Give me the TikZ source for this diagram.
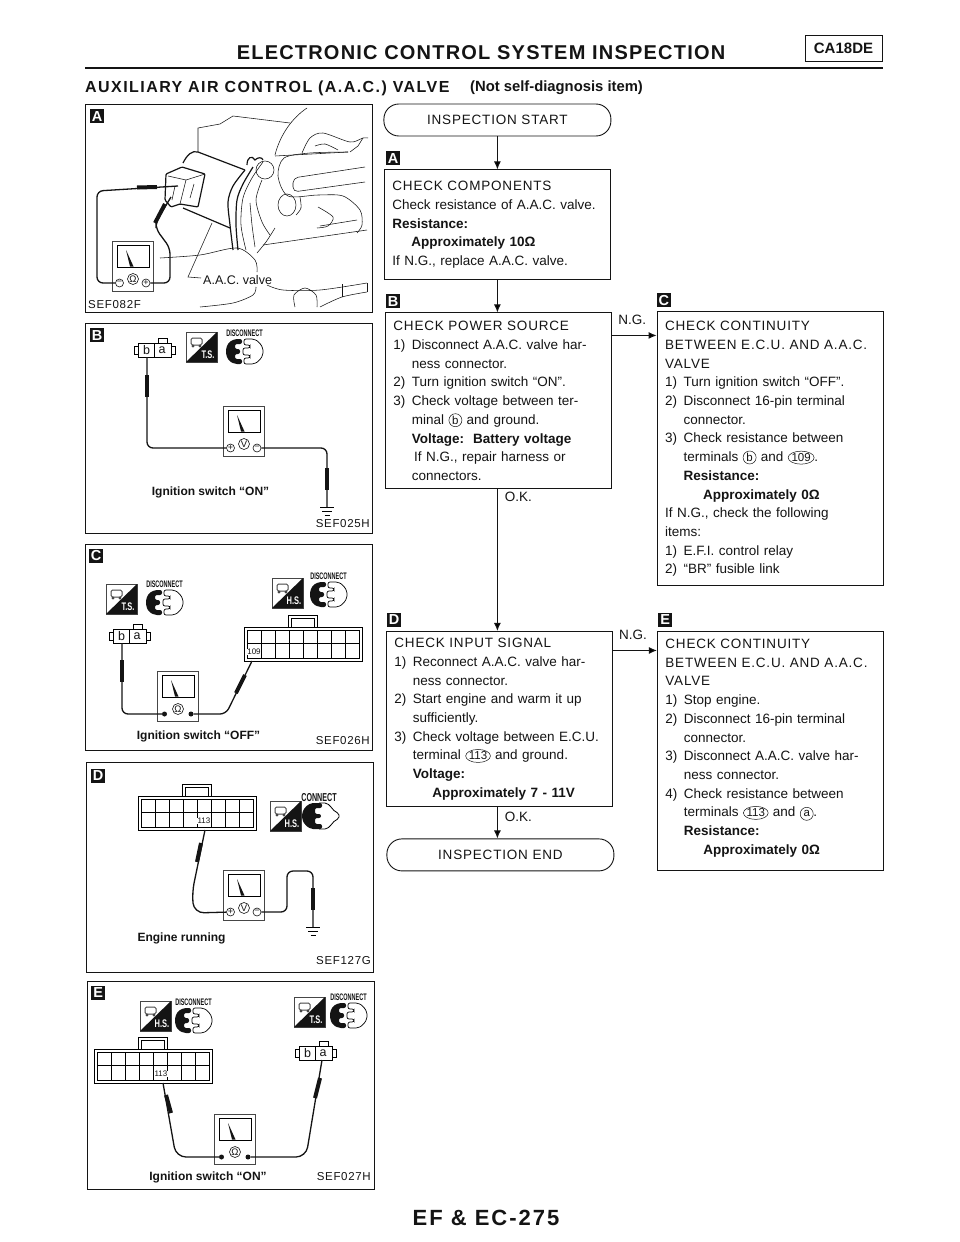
\documentclass[tikz,border=0pt]{standalone}
\usepackage{fontspec}
\usepackage{graphicx}
\setmainfont{Liberation Sans}
\newfontfamily\spacedfont[LetterSpace=6]{Liberation Sans}
\newfontfamily\widefont[LetterSpace=9]{Liberation Sans}
\usetikzlibrary{arrows.meta, positioning, shapes.geometric}
\definecolor{ink}{RGB}{20, 20, 20}
\definecolor{frameg}{RGB}{70, 70, 70}
% text helpers for the check boxes
\newcommand{\numd}[1]{\makebox[18.5pt][l]{#1}}
\newcommand{\cont}{\hspace*{18.5pt}}
\newcommand{\capl}[1]{{\spacedfont #1}}
\newcommand{\tm}[1]{\tikz[baseline=(tmark.base)]\node[ellipse, draw=ink, line width=.5pt, inner sep=-.4pt, minimum width=13pt, minimum height=13pt, text width=, align=center, font=\fontsize{11.5}{12}\selectfont] (tmark) {#1};}
\newcommand{\dialface}[1]{
  \draw[draw=frameg, line width=.8pt] (0,0) rectangle (41,50);
  \draw[line width=.7pt] (5,4) rectangle (37,26);
  \fill[ink] (14,9) -- (21.5,25.5) -- (18,25.5) -- cycle;
  \node[circle, draw=ink, line width=.6pt, minimum size=11pt, inner sep=0pt, font=\fontsize{9.5}{10}\selectfont] (-dial) at (21,38) {#1};
}
\tikzset{
  pics/signmeter/.style n args={3}{code={
    \dialface{#1}
    \node[circle, draw=ink, line width=.6pt, fill=white, minimum size=8pt, inner sep=0pt, font=\fontsize{9}{9}\selectfont] (-left) at (7.5,42) {#2};
    \node[circle, draw=ink, line width=.6pt, fill=white, minimum size=8pt, inner sep=0pt, font=\fontsize{9}{9}\selectfont] (-right) at (34,42) {#3};
  }},
  pics/dotmeter/.style={code={
    \dialface{Ω}
    \node[circle, fill=ink, minimum size=5pt, inner sep=0pt] (-left) at (7.5,43) {};
    \node[circle, fill=ink, minimum size=5pt, inner sep=0pt] (-right) at (34,43) {};
  }},
  pics/baplug/.style={code={
    \draw[line width=.7pt] (0,0) rectangle (33,14) (16,0) -- (16,14);
    \draw[line width=.7pt] (20,0) -- (20,-5) -- (29,-5) -- (29,0);
    \draw[line width=.7pt] (0,3) -- (-4,3) -- (-4,11) -- (0,11) (33,3) -- (37,3) -- (37,11) -- (33,11);
    \node[inner sep=0pt, font=\fontsize{12.5}{13}\selectfont] (-b) at (8.5,7) {b};
    \node[inner sep=0pt, font=\fontsize{12.5}{13}\selectfont] (-a) at (24,7) {a};
    \coordinate (-bpin) at (9,14);
    \coordinate (-apin) at (23,14);
  }},
  pics/pinblock/.style n args={3}{code={
    \draw[line width=.8pt] (0,0) rectangle (118,34);
    \draw[line width=.8pt] (44,0) -- (44,-12) -- (73,-12) -- (73,0);
    \draw[line width=.5pt] (47,0) -- (47,-9) -- (70,-9) -- (70,0);
    \draw[line width=.5pt] (3,3) rectangle (115,31) (3,16) -- (115,16);
    \foreach \cx in {17,31,...,101}
      \draw[line width=.5pt] (\cx,3) -- (\cx,31);
    \node[fill=white, inner sep=.3pt, font=\fontsize{8}{8}\selectfont] (-num) at (#2,25) {#1};
    \coordinate (-pin) at (#3,34);
  }},
  pics/modebadge/.style={code={
    \draw[draw=frameg, fill=white, line width=.6pt] (0,0) rectangle (31,30);
    \fill[ink] (0,30) -- (31,0) -- (31,30) -- cycle;
    \draw[frameg, line width=1pt, rounded corners=1.5pt] (5,6) rectangle (16,13);
    \fill[frameg] (7,14) circle (1.6pt) (14,14) circle (1.6pt);
    \node[text=white, inner sep=0pt, font=\bfseries\fontsize{11}{11}\selectfont] (-txt) at (22,23) {\scalebox{.68}[1]{#1}};
  }},
  pics/plugopen/.style={code={
    \node[inner sep=0pt, font=\bfseries\fontsize{9.5}{10}\selectfont] (-lab) at (18.5,-5.5) {\scalebox{.58}[1]{DISCONNECT}};
    \fill[ink, rounded corners=2pt] (9,0) -- (3,3) -- (0,9) -- (0,16) -- (3,22) -- (9,25) -- (16,25) -- (16,20) -- (9,20) -- (9,15) -- (14,15) -- (14,10) -- (9,10) -- (9,5) -- (16,5) -- (16,0) -- cycle;
    \draw[line width=.7pt, rounded corners=2pt] (18,0) -- (28,0) -- (33,3) -- (37,9) -- (37,16) -- (33,22) -- (28,25) -- (18,25) -- (18,19) -- (24,19) -- (24,16) -- (17,16) -- (17,9) -- (24,9) -- (24,6) -- (18,6) -- cycle;
  }},
  pics/plugjoin/.style={code={
    \node[inner sep=0pt, font=\bfseries\fontsize{11.5}{12}\selectfont] (-lab) at (17,-5) {\scalebox{.62}[1]{CONNECT}};
    \draw[line width=.8pt, rounded corners=2pt] (17,0) -- (25,0) -- (30,5) -- (33,9) -- (37,10) -- (37,16) -- (33,17) -- (30,21) -- (25,26) -- (17,26);
    \fill[ink, rounded corners=2pt] (9,0) -- (3,4) -- (0,10) -- (0,16) -- (3,22) -- (9,26) -- (20,26) -- (20,21) -- (13,21) -- (13,15) -- (19,15) -- (19,11) -- (13,11) -- (13,5) -- (20,5) -- (20,0) -- cycle;
  }},
  pics/earth/.style={code={
    \coordinate (-top) at (0,0);
    \draw[line width=.8pt] (-7,0) -- (7,0) (-5,4) -- (5,4) (-2.5,8) -- (2.5,8);
  }}
}
\begin{document}
\begin{tikzpicture}[
  x=1pt, y=-1pt,
  node distance=32pt and 45pt,
  every node/.style={text=ink},
  panel/.style={draw=ink, line width=.9pt, minimum width=287pt, inner sep=0pt},
  tag/.style={fill=ink, text=white, minimum size=14pt, inner sep=0pt, font=\bfseries\fontsize{14.5}{15}\selectfont},
  checkbox/.style={draw=ink, line width=1pt, text width=210pt, inner xsep=8pt, inner ysep=0pt, align=left,
                   font=\fontsize{13.5}{18.7}\selectfont},
  term/.style={draw=ink, line width=.9pt, rounded corners=15pt, minimum width=227pt, minimum height=32pt,
               font=\spacedfont\fontsize{13.5}{14}\selectfont},
  arr/.style={-{Latex[length=8pt, width=7pt]}, line width=1pt, draw=ink},
  lbl/.style={inner sep=2pt, font=\fontsize{13.5}{14}\selectfont},
  cond/.style={inner sep=0pt, font=\bfseries\fontsize{12}{12}\selectfont},
  sefid/.style={inner sep=0pt, font=\spacedfont\fontsize{11.5}{12}\selectfont},
  wire/.style={line width=1.3pt, draw=ink, rounded corners=6pt},
  probe/.style={line width=4pt, draw=ink},
  fine/.style={line width=.55pt, draw=ink},
  heavy/.style={line width=1.2pt, draw=ink}
]
  \path[use as bounding box, fill=white] (0,0) rectangle (960,1242);

  % page heading
  \node[inner sep=0pt, font=\bfseries\fontsize{20}{20}\spacedfont] (title) at (481,53) {ELECTRONIC CONTROL SYSTEM INSPECTION};
  \draw[line width=2pt, draw=ink] (85,68) -- (883,68);
  \node[draw=ink, line width=1pt, minimum width=77pt, minimum height=26pt, inner sep=0pt, font=\bfseries\fontsize{15}{15}\selectfont] (engine) at (843.5,48) {CA18DE};
  \node[anchor=west, inner sep=0pt, font=\bfseries\fontsize{16}{16}\widefont] (subhead) at (85,88) {AUXILIARY AIR CONTROL (A.A.C.) VALVE};
  \node[anchor=west, inner sep=0pt, font=\bfseries\fontsize{14.8}{15}\selectfont] (subnote) at (470,88) {(Not self-diagnosis item)};
  \node[inner sep=0pt, font=\bfseries\fontsize{22}{22}\widefont] (pageno) at (486,1218) {EF \& EC-275};

  % flow chart, main column
  \node[term] (start) at (497.4,120) {INSPECTION START};
  \node[checkbox, minimum height=110pt, below=33pt of start] (compA) {
    \capl{CHECK COMPONENTS}\\
    Check resistance of A.A.C. valve.\\
    \textbf{Resistance:}\\
    \hspace*{19pt}\textbf{Approximately 10Ω}\\
    If N.G., replace A.A.C. valve.};
  \node[checkbox, minimum height=176pt, below=32pt of compA, xshift=1pt] (powerB) {
    \capl{CHECK POWER SOURCE}\\
    \numd{1)}Disconnect A.A.C. valve har-\\
    \cont ness connector.\\
    \numd{2)}Turn ignition switch “ON”.\\
    \numd{3)}Check voltage between ter-\\
    \cont minal \tm{b} and ground.\\
    \cont\textbf{Voltage:\ \ Battery voltage}\\
    \cont\,If N.G., repair harness or\\
    \cont connectors.};
  \node[checkbox, minimum height=175.5pt, below=141.5pt of powerB, xshift=1pt] (inputD) {
    \capl{CHECK INPUT SIGNAL}\\
    \numd{1)}Reconnect A.A.C. valve har-\\
    \cont ness connector.\\
    \numd{2)}Start engine and warm it up\\
    \cont sufficiently.\\
    \numd{3)}Check voltage between E.C.U.\\
    \cont terminal \tm{113} and ground.\\
    \cont\textbf{Voltage:}\\
    \hspace*{38pt}\textbf{Approximately 7 - 11V}};
  \node[term, below=31pt of inputD, xshift=1pt] (finish) {INSPECTION END};

  % flow chart, right column
  \node[checkbox, minimum height=274pt, right=44.7pt of powerB.north east, anchor=north west, yshift=1pt] (contC) {
    \capl{CHECK CONTINUITY}\\
    \capl{BETWEEN E.C.U. AND A.A.C.}\\
    \capl{VALVE}\\
    \numd{1)}Turn ignition switch “OFF”.\\
    \numd{2)}Disconnect 16-pin terminal\\
    \cont connector.\\
    \numd{3)}Check resistance between\\
    \cont terminals \tm{b} and \tm{109}.\\
    \cont\textbf{Resistance:}\\
    \hspace*{38pt}\textbf{Approximately 0Ω}\\
    If N.G., check the following\\
    items:\\
    \numd{1)}E.F.I. control relay\\
    \numd{2)}“BR” fusible link};
  \node[checkbox, minimum height=239.5pt, right=44pt of inputD.north east, anchor=north west] (contE) {
    \capl{CHECK CONTINUITY}\\
    \capl{BETWEEN E.C.U. AND A.A.C.}\\
    \capl{VALVE}\\
    \numd{1)}Stop engine.\\
    \numd{2)}Disconnect 16-pin terminal\\
    \cont connector.\\
    \numd{3)}Disconnect A.A.C. valve har-\\
    \cont ness connector.\\
    \numd{4)}Check resistance between\\
    \cont terminals \tm{113} and \tm{a}.\\
    \cont\textbf{Resistance:}\\
    \hspace*{38pt}\textbf{Approximately 0Ω}\rule[-9pt]{0pt}{9pt}};

  \node[tag, above right=4pt and 2pt of compA.north west] (tagfa) {A};
  \node[tag, above right=4pt and 1pt of powerB.north west] (tagfb) {B};
  \node[tag, above right=4pt and 0pt of contC.north west] (tagfc) {C};
  \node[tag, above right=4pt and 1pt of inputD.north west] (tagfd) {D};
  \node[tag, above right=4pt and 1pt of contE.north west] (tagfe) {E};

  \coordinate (ngb) at ([yshift=-23pt]powerB.north east);
  \coordinate (ngc) at ([yshift=-24pt]contC.north west);
  \coordinate (ngd) at ([yshift=-19.5pt]inputD.north east);
  \coordinate (nge) at ([yshift=-19.5pt]contE.north west);

  \draw[arr] (start) -- (start |- compA.north);
  \draw[arr] (compA) -- (compA |- powerB.north);
  \draw[arr] (compA |- powerB.south) -- node[lbl, pos=.05, right=5pt]{O.K.} (compA |- inputD.north);
  \draw[arr] (compA |- inputD.south) -- node[lbl, pos=.3, right=5pt]{O.K.} (compA |- finish.north);
  \draw[arr] (ngb) -- node[lbl, above=8pt, xshift=-2pt]{N.G.} (ngc);
  \draw[arr] (ngd) -- node[lbl, above=8pt, xshift=-2pt]{N.G.} (nge);

  % picture frames on the left
  \node[panel, minimum height=208pt, anchor=north west] (pa) at (85,104) {};
  \node[panel, minimum height=210pt, below=10pt of pa] (pb) {};
  \node[panel, minimum height=206pt, below=10pt of pb] (pc) {};
  \node[panel, minimum height=210pt, below=11pt of pc, xshift=1pt] (pd) {};
  \node[panel, minimum height=208pt, below=8pt of pd, xshift=1pt] (pe) {};
  \node[tag, below right=5pt and 5pt of pa.north west] (tagpa) {A};
  \node[tag, below right=5pt and 5pt of pb.north west] (tagpb) {B};
  \node[tag, below right=5pt and 4pt of pc.north west] (tagpc) {C};
  \node[tag, below right=7pt and 5pt of pd.north west] (tagpd) {D};
  \node[tag, below right=5pt and 4pt of pe.north west] (tagpe) {E};

  % panel A, valve sketch
  \draw[fine] (198,152) -- (198,128) -- (220,124) -- (233,116) -- (290,123);
  \draw[fine] (307,108) .. controls (292,118) and (280,135) .. (275,155);
  \draw[fine] (275,156) -- (348,152);
  \draw[heavy] (183,163) .. controls (187,155) and (192,150) .. (198,152) -- (245,170);
  \draw[heavy] (183,208) -- (230,228);
  \draw[heavy, fill=white, rounded corners=1pt] (166,174) -- (182,167) -- (205,174) -- (198,207) -- (180,204) -- (171,207) -- (165,200) -- cycle;
  \draw[fine] (168,176) -- (186,180) -- (205,174) (186,180) -- (180,204) (194,184) -- (190,198) (175,186) -- (172,200);
  \draw[heavy] plot[smooth] coordinates {(245,170) (233,186) (228,202) (230,225) (233,250)};
  \draw[heavy] plot[smooth] coordinates {(253,167) (243,184) (237,200) (236,225) (238,250)};
  \draw[fine] plot[smooth] coordinates {(263,162) (252,178) (243,198) (241,225) (246,250)};
  \draw[heavy] (247,165) .. controls (247,157) and (252,155) .. (255,160) .. controls (258,157) and (262,157) .. (263,160);
  \draw[fine] (265,170) circle (9pt);
  \draw[fine] plot[smooth] coordinates {(348,152) (310,153) (284,158) (278,176) (288,196) (318,195) (343,196) (360,210) (362,225) (357,233)};
  \draw[fine, rounded corners=5pt] (365,167) -- (293,178) -- (293,192) -- (365,182);
  \draw[fine] plot[smooth] coordinates {(302,153) (310,138) (323,133) (350,142) (363,138) (368,138)};
  \draw[fine] plot[smooth] coordinates {(315,146) (325,144) (338,150)};
  \draw[fine] (350,152) -- (358,146) -- (363,138);
  \draw[fine] (287,205) ellipse (9pt and 11pt);
  \draw[fine] plot[smooth] coordinates {(300,197) (301,208) (296,215)};
  \draw[fine] plot[smooth] coordinates {(318,207) (333,217) (328,226) (317,228)};
  \draw[fine] (320,226) -- (357,220);
  \draw[fine] (263,245) -- (367,230);
  \draw[fine] plot[smooth] coordinates {(160,258) (200,255) (237,248) (255,260) (257,272)};
  \draw[fine] plot[smooth] coordinates {(256,287) (253,295) (233,303) (200,307)};
  \draw[fine] plot[smooth] coordinates {(257,253) (266,242) (275,228)};
  \draw[fine] plot[smooth] coordinates {(250,203) (252,225) (255,247)};
  \draw[fine] plot[smooth] coordinates {(262,180) (256,200) (262,222) (270,235)};
  \draw[fine] plot[smooth] coordinates {(267,285) (283,290) (320,290) (367,283)};
  \draw[fine] plot[smooth] coordinates {(295,307) (294,295) (305,288) (316,295) (317,307)};
  \draw[fine] plot[smooth] coordinates {(320,307) (342,297) (367,292)};
  \draw[fine] (342,284) -- (342,297) (367,283) -- (367,292);
  \draw[fine] (212,223) -- (188,277) -- (201,278);
  \node[anchor=west, inner sep=0pt, font=\fontsize{12.5}{13}\selectfont] (valvename) at (203,280) {A.A.C. valve};
  \pic (ma) at (112,241) {signmeter={Ω}{−}{+}};
  \draw[wire] (ma-left) -- (97,283) -- (97,191) -- (178,186);
  \draw[probe] (137,187.5) -- (157,187);
  \draw[wire] (ma-right) -- (170,283) -- (170,248) -- (156,229) -- (156,222) -- (171,197);
  \draw[probe] (165,204) -- (155,223);
  \node[sefid, anchor=west] (sefa) at (88,305) {SEF082F};

  % panel B, power source
  \pic (cb) at (138,343) {baplug};
  \pic (tb) at (186,332) {modebadge={T.S.}};
  \pic (pgb) at (226,339) {plugopen};
  \pic (mb) at (223,406) {signmeter={V}{+}{−}};
  \pic (gb) at (327,507) {earth};
  \draw[wire] (cb-bpin) |- (mb-left);
  \draw[wire] (mb-right) -| (gb-top);
  \draw[probe] (147,375) -- (147,397);
  \draw[probe] (327,468) -- (327,490);
  \node[cond] (noteb) at (210.5,492) {Ignition switch “ON”};
  \node[sefid, anchor=east] (sefb) at (370,524) {SEF025H};

  % panel C, continuity
  \pic (tc) at (106,584) {modebadge={T.S.}};
  \pic (pgc) at (146,590) {plugopen};
  \pic (hc) at (272,578) {modebadge={H.S.}};
  \pic (pgc2) at (310,582) {plugopen};
  \pic (cc) at (113,629) {baplug};
  \pic (kc) at (244,627) {pinblock={109}{10}{8}};
  \pic (mc) at (157,671) {dotmeter};
  \draw[wire] (cc-bpin) |- (mc-left);
  \draw[wire] (mc-right) -- (226,714) -- (kc-pin);
  \draw[probe] (122,660) -- (122,682);
  \draw[probe] (236,693) -- (245,675);
  \node[cond] (notec) at (198.5,736) {Ignition switch “OFF”};
  \node[sefid, anchor=east] (sefc) at (370,741) {SEF026H};

  % panel D, input signal
  \pic (kd) at (138,796) {pinblock={113}{66}{67}};
  \pic (hd) at (270,801) {modebadge={H.S.}};
  \pic (pgd) at (302,803) {plugjoin};
  \pic (md) at (223,870) {signmeter={V}{+}{−}};
  \pic (gd) at (313,927) {earth};
  \draw[wire, rounded corners=10pt] (kd-pin) -- (192,893) -- (194,913) -- (md-left);
  \draw[wire] (md-right) -- (287,912) -- (287,871) -- (313,871) -- (gd-top);
  \draw[probe] (201,843) -- (197,862);
  \draw[probe] (313,888) -- (313,910);
  \node[cond] (noted) at (181.5,938) {Engine running};
  \node[sefid, anchor=east] (sefd) at (371,961) {SEF127G};

  % panel E, continuity
  \pic (he) at (140,1001) {modebadge={H.S.}};
  \pic (pge) at (175,1008) {plugopen};
  \pic (te) at (294,997) {modebadge={T.S.}};
  \pic (pge2) at (330,1003) {plugopen};
  \pic (ke) at (94,1049) {pinblock={113}{67}{69}};
  \pic (ce) at (299,1046) {baplug};
  \pic (me) at (214,1114) {dotmeter};
  \draw[wire, rounded corners=10pt] (ke-pin) -- (176,1157) -- (me-left);
  \draw[wire, rounded corners=10pt] (me-right) -- (306,1157) -- (ce-apin);
  \draw[probe] (166,1095) -- (171,1113);
  \draw[probe] (315,1098) -- (320,1078);
  \node[cond] (notee) at (208,1177) {Ignition switch “ON”};
  \node[sefid, anchor=east] (sefe) at (371,1177) {SEF027H};
\end{tikzpicture}
\end{document}
